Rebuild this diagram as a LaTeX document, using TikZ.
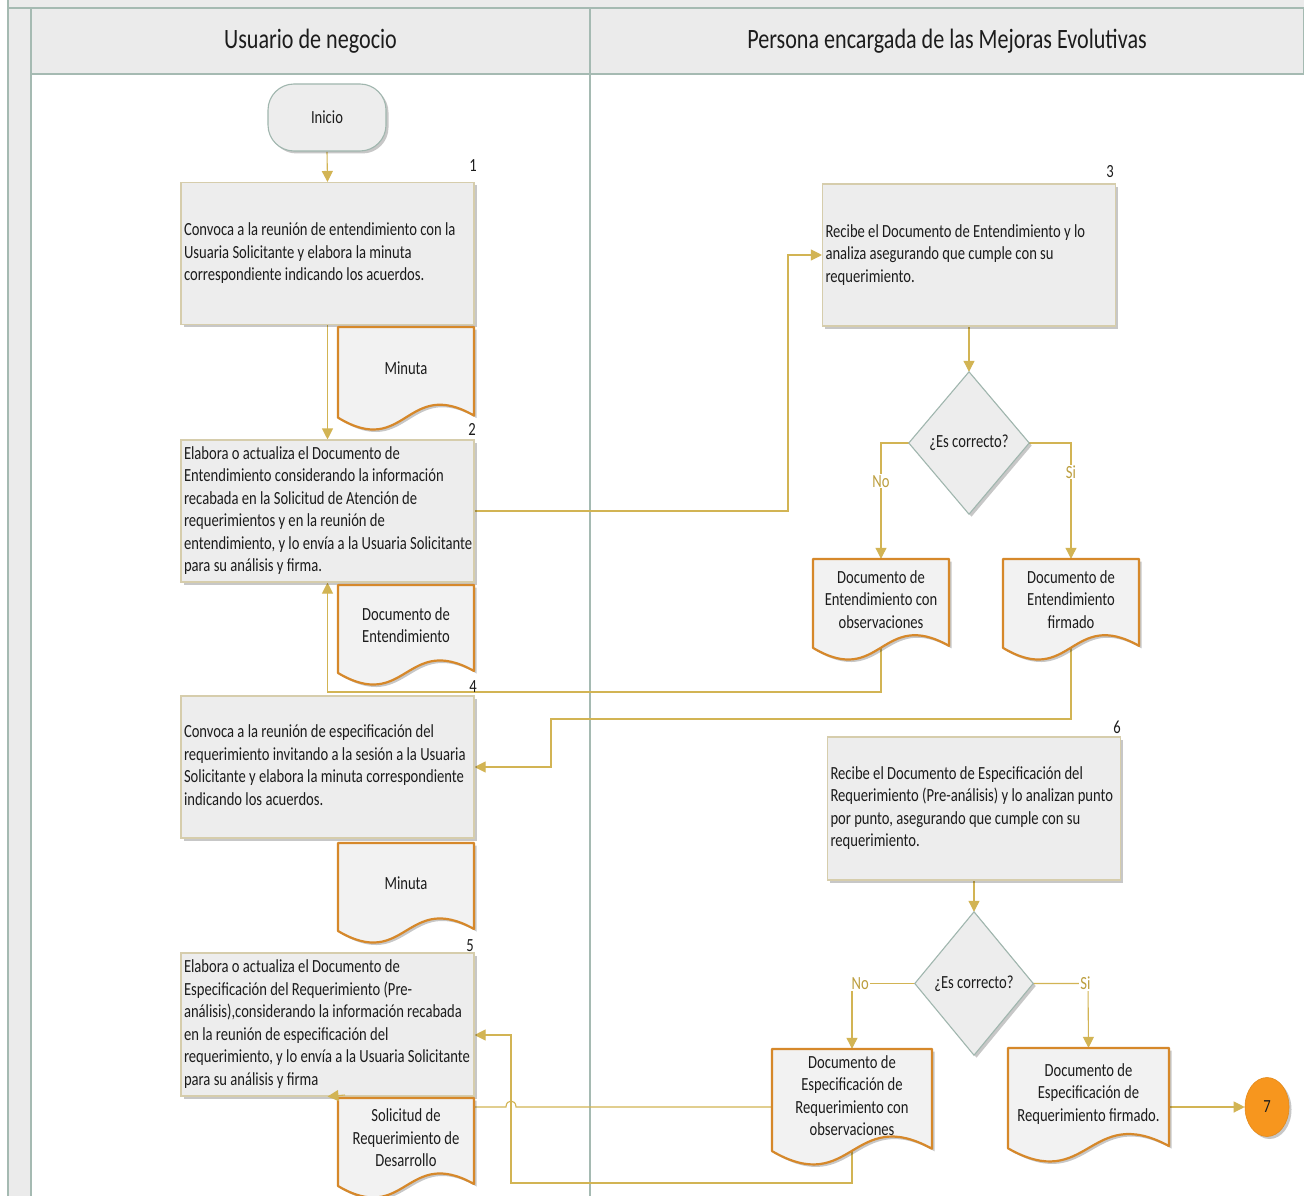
\documentclass[tikz,border=0pt]{standalone}
\usepackage{fontspec}
\setmainfont{Carlito}[FakeStretch=0.79]
\usetikzlibrary{arrows.meta,shadows,calc,shapes.geometric}
\definecolor{gold}{RGB}{210,180,84}
\definecolor{goldtxt}{RGB}{188,158,62}
\definecolor{lanec}{RGB}{165,186,178}
\definecolor{hdrfill}{RGB}{235,235,235}
\definecolor{boxfill}{RGB}{237,237,237}
\definecolor{boxline}{RGB}{214,205,172}
\definecolor{docline}{RGB}{214,136,42}
\definecolor{docfill}{RGB}{242,242,242}
\definecolor{dia}{RGB}{160,182,174}
\definecolor{orng}{RGB}{247,150,30}
\definecolor{txt}{RGB}{28,28,28}
\pgfdeclarelayer{lanes}
\pgfdeclarelayer{links}
\pgfdeclarelayer{top}
\pgfsetlayers{lanes,links,main,top}
\newcommand\tl[1]{{\spaceskip=0pt\xspaceskip=0pt\begin{tabular}{@{}l@{}}#1\end{tabular}}}
\tikzset{
  base/.style={font=\fontsize{18.5}{22.5}\selectfont, text=txt},
  shad/.style={drop shadow={shadow xshift=2.5pt, shadow yshift=-2.5pt, opacity=0.22, fill=black}},
  box/.style={base, draw=boxline, line width=1.1pt, fill=boxfill, minimum height=142pt,
    text width=287pt, inner xsep=3pt, inner ysep=0pt, align=left, shad},
  docbound/.style={draw=none, inner sep=0pt},
  docshape/.style={draw=docline, line width=2.2pt, fill=docfill, line join=round, shad},
  doctext/.style={base, align=center, inner sep=0pt},
  term/.style={base, draw=dia, line width=1.1pt, fill=boxfill, rounded corners=26pt,
    minimum width=118pt, minimum height=67pt, inner sep=0pt, shad},
  diabound/.style={draw=none, inner sep=0pt},
  diashape/.style={draw=dia, line width=1.1pt, fill=boxfill, line join=miter, shad},
  hdr/.style={draw=lanec, line width=1.3pt, fill=hdrfill, inner sep=0pt,
    font=\fontsize{28}{32}\selectfont, text=txt},
  conn/.style={draw=gold, line width=1.1pt},
  arr/.style={conn, -{Triangle[length=11pt,width=11pt]}},
  num/.style={base, inner sep=0pt},
  yn/.style={base, text=goldtxt, fill=white, inner sep=1pt},
}
\newcommand\docnode[6]{%
  \node[docbound, minimum width=#4pt, minimum height=#5pt] (#1) at (#2,#3) {};
  \path[docshape] ({#2-#4/2},{#3-#5/2}) -- ({#2+#4/2},{#3-#5/2})
    -- ({#2+#4/2},{#3-#5/2+0.86*#5})
    .. controls ({#2},{#3-#5/2+0.48*#5}) and ({#2},{#3-#5/2+1.28*#5}) ..
    ({#2-#4/2},{#3-#5/2+0.88*#5}) -- cycle;
  \node[doctext] (#1-t) at ({#2},{#3-#5/2+0.4*#5}) {#6};
}
\newcommand\dianode[5]{%
  \node[diabound, minimum width=#4pt, minimum height=#5pt] (#1) at (#2,#3) {};
  \path[diashape] (#1.north) -- (#1.east) -- (#1.south) -- (#1.west) -- cycle;
  \node[base, inner sep=0pt] (#1-t) at (#1.center) {¿Es correcto?};
}
\begin{document}
\begin{tikzpicture}[x=1pt,y=-1pt]
\useasboundingbox (0,0) rectangle (1304,1196);
\clip (0,0) rectangle (1304,1196);
% ---------- lanes ----------
\begin{pgfonlayer}{lanes}
  \fill[white] (0,0) rectangle (1304,1196);
  \fill[hdrfill] (8,0) rectangle (1304,8);
  \fill[hdrfill] (8,8) rectangle (31,1196);
  \draw[lanec, line width=1.3pt] (8,0) -- (8,1196);
  \draw[lanec, line width=1.3pt] (31,8) -- (31,1196);
  \draw[lanec, line width=1.3pt] (8,8) -- (1304,8);
  \node[hdr, minimum width=559pt, minimum height=66pt] (h1) at (310.5,41) {Usuario de negocio};
  \node[hdr, minimum width=714pt, minimum height=66pt] (h2) at (947,41) {Persona encargada de las Mejoras Evolutivas};
  \draw[lanec, line width=1.3pt] (590,74) -- (590,1196);
\end{pgfonlayer}
% ---------- nodes ----------
\node[term] (ini) at (327,117.5) {Inicio};
\node[box] (b1) at (327.5,253.5) {\tl{Convoca a la reunión de entendimiento con la\\Usuaria Solicitante y elabora la minuta\\correspondiente indicando los acuerdos.}};
\node[box] (b2) at (327.5,511) {\tl{Elabora o actualiza el Documento de\\Entendimiento considerando la información\\recabada en la Solicitud de Atención de\\requerimientos y en la reunión de\\entendimiento, y lo envía a la Usuaria Solicitante\\para su análisis y firma.}};
\node[box, minimum height=142pt] (b3) at (969,255) {\tl{Recibe el Documento de Entendimiento y lo\\analiza asegurando que cumple con su\\requerimiento.}};
\node[box] (b4) at (327.5,767) {\tl{Convoca a la reunión de especificación del\\requerimiento invitando a la sesión a la Usuaria\\Solicitante y elabora la minuta correspondiente\\indicando los acuerdos.}};
\node[box, minimum height=143pt] (b5) at (327.5,1024.5) {\tl{Elabora o actualiza el Documento de\\Especificación del Requerimiento (Pre-\\análisis),considerando la información recabada\\en la reunión de especificación del\\requerimiento, y lo envía a la Usuaria Solicitante\\para su análisis y firma}};
\node[box, minimum height=143pt] (b6) at (974,808.5) {\tl{Recibe el Documento de Especificación del\\Requerimiento (Pre-análisis) y lo analizan punto\\por punto, asegurando que cumple con su\\requerimiento.}};
\docnode{dm1}{406}{378.5}{136}{103}{Minuta}
\docnode{dde}{406}{635}{136}{100}{Documento de\\Entendimiento}
\docnode{dc3}{881}{609.5}{136}{101}{Documento de\\Entendimiento con\\observaciones}
\docnode{dc4}{1071}{609.5}{136}{101}{Documento de\\Entendimiento\\firmado}
\docnode{dm2}{406}{893}{136}{100}{Minuta}
\docnode{dsr}{406}{1148}{136}{100}{Solicitud de\\Requerimiento de\\Desarrollo}
\docnode{dc5}{852}{1107}{160}{116}{Documento de\\Especificación de\\Requerimiento con\\observaciones}
\docnode{dc6}{1088.5}{1105}{161}{114}{Documento de\\Especificación de\\Requerimiento firmado.}
\dianode{d1}{969}{443}{120}{142}
\dianode{d2}{974}{983.5}{118}{143}
\node[base, ellipse, fill=orng, draw=orng!92!black, line width=0.6pt, minimum width=44pt, minimum height=59pt, inner sep=0pt, shad] (c7) at (1267,1107) {7};
\node[num] (n1) at (473,166) {1};
\node[num] (n2) at (472,429) {2};
\node[num] (n3) at (1110,172) {3};
\node[num] (n4) at (473,687) {4};
\node[num] (n5) at (470,946) {5};
\node[num] (n6) at (1117,727) {6};
% ---------- connectors ----------
\begin{pgfonlayer}{links}
  \draw[arr] (ini.south) -- (b1.north);
  \draw[arr] (b1.south) -- (b2.north);
  \draw[arr] (b2.east) -- (788,511) |- (b3.west);
  \draw[arr] (b3.south) -- (d1.north);
  \draw[arr] (d1.west) -- (881,443) -- node[yn, pos=0.33] (no1) {No} (dc3.north);
  \draw[arr] (d1.east) -- (1071,443) -- node[yn, pos=0.25] (si1) {Si} (dc4.north);
  \draw[arr] (dc3.center) -- (881,692) -| (b2.south);
  \draw[arr] (dc4.center) -- (1071,719) -- (551,719) |- (b4.east);
  \draw[arr] (b6.south) -- (d2.north);
  \draw[arr] (d2.west) -- (852,983.5) node[yn, anchor=west, inner sep=1pt] (no2) at (850,983.5) {No} -- (dc5.north);
  \draw[arr] (d2.east) -- (1088,983.5) node[yn, anchor=east, inner sep=1pt] (si2) at (1092,983.5) {Si} -- (dc6.north);
  \draw[arr] (dc6.east |- c7.west) -- (c7.west);
  \draw[conn] (dc5.west) -- (516,1107) .. controls (516,1099) and (506,1099) .. (506,1107) -- (345,1107) -- (345,1095);
  \draw[arr] (dc5.center) -- (852,1183) -- (511,1183) -- (511,1035) -- (b5.east |- 0,1035);
\end{pgfonlayer}
\begin{pgfonlayer}{top}
  \draw[arr] (345,1095) -- (b5.south);
\end{pgfonlayer}
\end{tikzpicture}
\end{document}
